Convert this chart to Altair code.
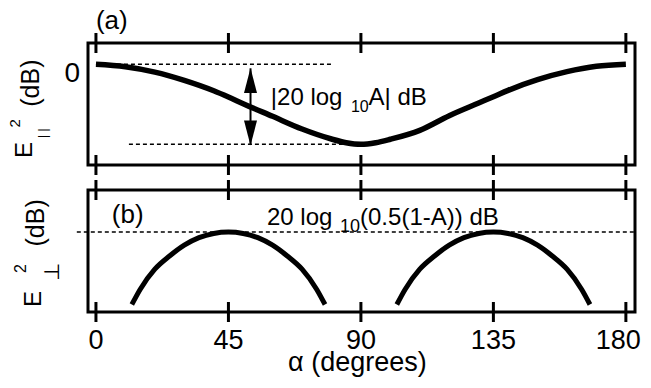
import altair as alt
import pandas as pd

# ---------------- data ----------------
# panel (a): E_par^2 (dB) versus alpha (degrees)
alpha_a = [0, 10, 20, 30, 40, 45, 50, 60, 70, 80, 85, 90, 95, 100, 110, 120, 130, 135, 140, 150, 160, 170, 180]
epar_db = [0, -0.18, -0.58, -1.2, -1.98, -2.45, -2.95, -3.9, -4.85, -5.6, -5.88, -6.0, -5.88, -5.62, -4.95,
           -3.85, -2.9, -2.43, -1.95, -1.15, -0.55, -0.15, 0]

# panel (b): E_perp^2 (dB), two arcs
arc1_alpha = [12.2, 15, 20, 25, 30, 35, 40, 45, 50, 55, 60, 65, 70, 75, 77.8]
arc2_alpha = [102.2, 105, 110, 115, 120, 125, 130, 135, 140, 145, 150, 155, 160, 165, 167.8]
arc_db = [-19.7, -18.1, -15.95, -14.55, -13.4, -12.6, -12.15, -12.0, -12.15, -12.6, -13.4, -14.55, -15.95, -18.1, -19.7]

tick_values = [0, 45, 90, 135, 180]
tick_labels = ["0", "45", "90", "135", "180"]
y_label_values = [0]
y_label_texts = ["0"]
x_title = "α (degrees)"
x_title_alpha = 88.8

# reference (dashed) levels
ref_a_x1 = [0, 11.2]
ref_a_x2 = [80.2, 88]
ref_a_y = [0, -6.0]
ref_b_x1 = [-6.5]
ref_b_x2 = [183.1]
ref_b_y = [-12.0]

# double arrow in (a)
arrow_alpha = 52.5
arrow_from, arrow_to = -0.3, -6.05
head_up_db, head_down_db = -1.22, -5.15

# ---------------- setup ----------------
W, H = 547, 122
FONT = "Liberation Sans"
xs = alt.Scale(domain=[-2.7, 183.1], nice=False, zero=False)
ya = alt.Scale(domain=[-7.55, 1.6], nice=False, zero=False)
yb = alt.Scale(domain=[-20.5, -7.53], nice=False, zero=False)

def X(f="alpha"):
    return alt.X(f"{f}:Q", scale=xs, axis=None)

def Y(ys, f="db"):
    return alt.Y(f"{f}:Q", scale=ys, axis=None)

def txt(rows, size, ys, baseline="alphabetic"):
    return alt.Chart(pd.DataFrame(rows)).mark_text(
        align="left", baseline=baseline, fontSize=size, font=FONT, color="black"
    ).encode(x=X(), y=Y(ys), text="t:N")

def vtxt(t, x, y, size, baseline="alphabetic", font=FONT):
    return alt.Chart(pd.DataFrame({"t": [t]})).mark_text(
        angle=270, align="left", baseline=baseline, fontSize=size, font=font, color="black"
    ).encode(x=alt.value(x), y=alt.value(y), text="t:N")

def ticks():
    d = pd.DataFrame({"alpha": tick_values})
    top = alt.Chart(d).mark_rule(color="black", strokeWidth=3).encode(
        x=X(), y=alt.value(-10), y2=alt.value(10))
    bot = alt.Chart(d).mark_rule(color="black", strokeWidth=3).encode(
        x=X(), y=alt.value(H - 10), y2=alt.value(H + 10))
    return [top, bot]

def dashed(x1, x2, y, ys):
    d = pd.DataFrame({"x1": x1, "x2": x2, "y": y})
    return alt.Chart(d).mark_rule(color="black", strokeWidth=1.5, strokeDash=[4, 3]).encode(
        x=X("x1"), x2="x2:Q", y=Y(ys, "y"))

# ---------------- panel (a) ----------------
df_a = pd.DataFrame({"alpha": alpha_a, "db": epar_db})
curve_a = alt.Chart(df_a).mark_line(color="black", strokeWidth=5.5, interpolate="monotone").encode(
    x=X(), y=Y(ya))

ylab_a = alt.Chart(pd.DataFrame({"db": y_label_values, "t": y_label_texts})).mark_text(
    align="right", baseline="middle", fontSize=28, font=FONT, color="black", dy=10
).encode(x=alt.value(-8), y=Y(ya), text="t:N")

shaft = alt.Chart(pd.DataFrame({"alpha": [arrow_alpha], "y1": [arrow_from], "y2": [arrow_to]})).mark_rule(
    color="black", strokeWidth=2).encode(x=X(), y=Y(ya, "y1"), y2="y2:Q")
head_up = alt.Chart(pd.DataFrame({"alpha": [arrow_alpha], "db": [head_up_db]})).mark_point(
    shape="M0,-1L0.52,1L-0.52,1Z", filled=True, size=625, color="black", opacity=1, strokeWidth=0
).encode(x=X(), y=Y(ya))
head_down = alt.Chart(pd.DataFrame({"alpha": [arrow_alpha], "db": [head_down_db]})).mark_point(
    shape="M0,1L0.52,-1L-0.52,-1Z", filled=True, size=625, color="black", opacity=1, strokeWidth=0
).encode(x=X(), y=Y(ya))

ann_a_main = txt({"alpha": [59.4, 92.6], "db": [-3.05, -3.05], "t": ["|20 log", "A| dB"]}, 24, ya)
ann_a_sub = txt({"alpha": [86.6], "db": [-3.6], "t": ["10"]}, 16, ya)
label_a = txt({"alpha": [0.0], "db": [4.2], "t": ["(a)"]}, 26, ya, baseline="top")

panel_a = alt.layer(
    curve_a, dashed(ref_a_x1, ref_a_x2, ref_a_y, ya), ylab_a,
    shaft, head_up, head_down, ann_a_main, ann_a_sub, label_a, *ticks(),
    vtxt("E", -56, 115, 24),
    vtxt("| |", -41.5, 95, 12),
    vtxt("2", -80, 84.5, 15, baseline="top"),
    vtxt("(dB)", -49.25, 63.75, 25),
).properties(width=W, height=H)

# ---------------- panel (b) ----------------
df_b = pd.DataFrame({
    "alpha": arc1_alpha + arc2_alpha,
    "db": arc_db + arc_db,
    "arc": ["left"] * len(arc1_alpha) + ["right"] * len(arc2_alpha),
})
curve_b = alt.Chart(df_b).mark_line(color="black", strokeWidth=5, interpolate="monotone").encode(
    x=X(), y=Y(yb), detail="arc:N")

df_xlab = pd.DataFrame({"alpha": tick_values, "t": tick_labels})
xlab_b = alt.Chart(df_xlab.iloc[:-1]).mark_text(
    align="center", baseline="top", fontSize=27, font=FONT, color="black"
).encode(x=X(), y=alt.value(H + 16), text="t:N")
# last label kept inside the page edge (as in the reference, where it touches the border)
xlab_last = alt.Chart(df_xlab.iloc[-1:]).mark_text(
    align="right", baseline="top", fontSize=27, font=FONT, color="black", dx=15
).encode(x=X(), y=alt.value(H + 16), text="t:N")
xtitle_b = alt.Chart(pd.DataFrame({"alpha": [x_title_alpha], "t": [x_title]})).mark_text(
    align="center", baseline="alphabetic", fontSize=27, font=FONT, color="black"
).encode(x=X(), y=alt.value(H + 59), text="t:N")

ann_b_main = txt({"alpha": [58.1, 89.7], "db": [-11.2, -11.2], "t": ["20 log", "(0.5(1-A)) dB"]}, 24, yb)
ann_b_sub = txt({"alpha": [82.9], "db": [-11.95], "t": ["10"]}, 18, yb)
label_b = txt({"alpha": [5.4], "db": [-10.19], "t": ["(b)"]}, 26, yb, baseline="middle")

panel_b = alt.layer(
    curve_b, dashed(ref_b_x1, ref_b_x2, ref_b_y, yb), xlab_b, xlab_last, xtitle_b,
    ann_b_main, ann_b_sub, label_b, *ticks(),
    vtxt("E", -47, 117, 24),
    vtxt("⊥", -29, 91, 21, font="DejaVu Sans"),
    vtxt("2", -62, 83, 16),
    vtxt("(dB)", -44.25, 56.5, 25),
).properties(width=W, height=H)

chart = alt.vconcat(panel_a, panel_b, spacing=25).properties(
    bounds="flush", padding={"left": -2, "top": -2, "right": 0, "bottom": 0}, background="white"
).configure_view(stroke="black", strokeWidth=3)

chart.save("out.html", embed_options={"renderer": "svg", "actions": False})
